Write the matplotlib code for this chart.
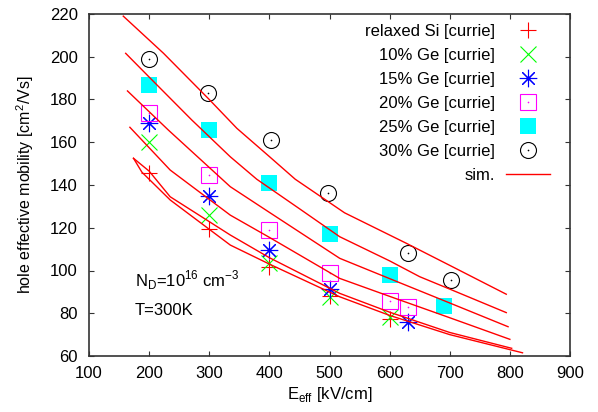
import matplotlib.pyplot as plt
from matplotlib.legend_handler import HandlerTuple

plt.rcParams['font.family'] = ['Liberation Sans', 'DejaVu Sans']
plt.rcParams['font.size'] = 12

# measured hole mobility [cm^2/Vs] vs effective field [kV/cm]
e_si = [200, 300, 400, 500, 600]
mu_si = [145.8, 119.4, 101.5, 88.0, 77.5]
e_ge10 = [200, 300, 400, 500, 600]
mu_ge10 = [160.3, 126.0, 103.4, 87.7, 78.1]
e_ge15 = [200, 300, 400, 500, 630]
mu_ge15 = [169.2, 134.9, 109.6, 91.5, 76.0]
e_ge20 = [200, 300, 400, 500, 600, 630]
mu_ge20 = [173.8, 144.7, 119.1, 99.0, 85.9, 82.9]
e_ge25 = [200, 300, 400, 500, 600, 690]
mu_ge25 = [187.0, 165.9, 141.0, 117.2, 97.9, 83.4]
e_ge30 = [200, 298, 403, 498, 630, 702]
mu_ge30 = [199.0, 183.0, 161.0, 136.2, 108.3, 95.6]

# simulation
sim_e_30 = [157, 224, 300, 346, 400, 443, 525, 628, 700, 794]
sim_mu_30 = [219.0, 201.6, 180.0, 166.5, 153.3, 142.7, 127.0, 112.7, 102.4, 88.9]
sim_e_25 = [161, 200, 271, 335, 379, 450, 517, 600, 650, 700, 794]
sim_mu_25 = [201.6, 190.5, 170.4, 153.2, 142.7, 128.9, 115.8, 104.5, 97.1, 91.3, 80.3]
sim_e_20 = [164, 232, 335, 400, 517, 600, 700, 797]
sim_mu_20 = [184.0, 165.7, 139.2, 127.2, 105.7, 96.2, 84.8, 73.7]
sim_e_15 = [168, 235, 335, 400, 517, 600, 700, 800]
sim_mu_15 = [167.0, 147.0, 125.9, 115.5, 96.3, 87.9, 77.9, 67.8]
sim_e_10 = [174, 200, 235, 335, 400, 517, 600, 700, 803]
sim_mu_10 = [152.5, 146.5, 134.5, 116.6, 106.0, 89.3, 80.5, 71.0, 63.6]
sim_e_si = [174, 188, 235, 335, 400, 517, 600, 700, 821]
sim_mu_si = [152.5, 146.0, 133.0, 111.9, 103.0, 87.7, 79.0, 70.0, 61.5]

fig = plt.figure(figsize=(5.98, 4.12), dpi=100)
ax = fig.add_axes([89 / 598, 1 - 356 / 412, 481 / 598, 342 / 412])

ms = 11.5
mew = 0.8
handles = []
labels = []

h = ax.plot(e_si, mu_si, ls='none', marker='+', ms=ms, mew=mew, color='#ff0000')[0]
handles.append(h)
labels.append('relaxed Si [currie]')

h = ax.plot(e_ge10, mu_ge10, ls='none', marker='x', ms=ms, mew=mew, color='#00ff00')[0]
handles.append(h)
labels.append('10% Ge [currie]')

h = ax.plot(e_ge15, mu_ge15, ls='none', marker=(8, 2, 0), ms=ms + 1, mew=mew, color='#0000ff')[0]
d = ax.plot(e_ge15, mu_ge15, ls='none', marker='o', ms=2.5, mew=0, color='#0000ff')[0]
handles.append((h, d))
labels.append('15% Ge [currie]')

h = ax.plot(e_ge20, mu_ge20, ls='none', marker='s', ms=ms, mew=mew, mfc='none', color='#ff00ff')[0]
d = ax.plot(e_ge20, mu_ge20, ls='none', marker='o', ms=1.2, mew=0, color='#ff00ff')[0]
handles.append((h, d))
labels.append('20% Ge [currie]')

h = ax.plot(e_ge25, mu_ge25, ls='none', marker='s', ms=ms, mew=0, color='#00ffff')[0]
handles.append(h)
labels.append('25% Ge [currie]')

h = ax.plot(e_ge30, mu_ge30, ls='none', marker='o', ms=ms, mew=mew, mfc='none', color='black')[0]
d = ax.plot(e_ge30, mu_ge30, ls='none', marker='o', ms=1.2, mew=0, color='black')[0]
handles.append((h, d))
labels.append('30% Ge [currie]')

sims = [(sim_e_si, sim_mu_si), (sim_e_10, sim_mu_10), (sim_e_15, sim_mu_15),
        (sim_e_20, sim_mu_20), (sim_e_25, sim_mu_25), (sim_e_30, sim_mu_30)]
for i, (x, y) in enumerate(sims):
    line = ax.plot(x, y, color='#ff0000', lw=1.0)[0]
    if i == 0:
        handles.append(line)
        labels.append('sim.')

ax.set_xlim(100, 900)
ax.set_ylim(60, 220)
ax.set_xticks(range(100, 901, 100))
ax.set_yticks(range(60, 221, 20))
ax.tick_params(direction='in', length=3.5, width=0.8, top=True, right=True,
               color='#333333', labelsize=12)
ax.tick_params(axis='x', pad=7)
ax.tick_params(axis='y', pad=8)
for s in ax.spines.values():
    s.set_color('#333333')
    s.set_linewidth(1.2)

ax.set_xlabel(r'E$_\mathregular{eff}$ [kV/cm]', labelpad=3)
ax.set_ylabel(r'hole effective mobility [cm$^\mathregular{2}$/Vs]', fontsize=11.5, labelpad=10)

ax.text(176, 95.6, r'N$_\mathregular{D}$=10$^\mathregular{16}$ cm$^\mathregular{-3}$',
        va='center', ha='left')
ax.text(176, 81.5, 'T=300K', va='center', ha='left')

ax.legend(handles, labels, handler_map={tuple: HandlerTuple(ndivide=1)},
          loc='upper right', bbox_to_anchor=(0.958, 0.972), frameon=False,
          markerfirst=False, borderaxespad=0, borderpad=0, handlelength=2.65,
          handletextpad=0.64, labelspacing=0.54)

fig.savefig('out.png', dpi=100)
